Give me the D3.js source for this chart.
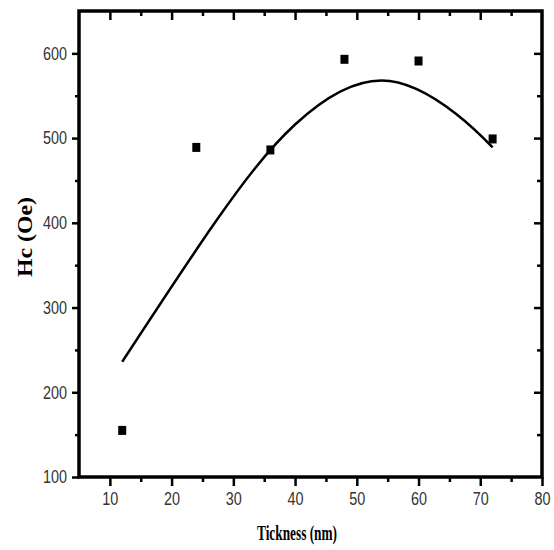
<!doctype html>
<html>
  <head>
    <script src="https://cdnjs.cloudflare.com/ajax/libs/d3/7.8.5/d3.min.js" type="text/JavaScript"></script>
    <style>
      body { margin: 0; background: #fff; }
    </style>
  </head>
  <body>
    <div id="viz">
      <svg style="width:554px;height:550px;"></svg>
    </div>
    <script>
      // measured points
      var thickness = [12, 24, 36, 48, 60, 72];
      var hc = [155, 489, 486, 593, 591, 499];
      // fitted curve
      var fitX = [12, 27, 40, 54, 66, 72];
      var fitY = [236, 400, 516, 568, 529, 489];
      var xTicks = [10, 20, 30, 40, 50, 60, 70, 80];
      var xMinor = [15, 25, 35, 45, 55, 65, 75];
      var yTicks = [100, 200, 300, 400, 500, 600];
      var yMinor = [150, 250, 350, 450, 550];

      var plotL = 79, plotR = 542, plotT = 11, plotB = 477;

      var x = d3.scaleLinear().domain([5, 80]).range([plotL, plotR]);
      var y = d3.scaleLinear().domain([100, 650]).range([plotB, plotT]);

      var svg = d3.select("svg");

      function styleAxis(g, w) {
        g.select(".domain").remove();
        g.selectAll(".tick line").attr("stroke", "#000").attr("stroke-width", w);
        g.selectAll("text")
          .attr("fill", "#333")
          .style("font-family", "'Liberation Sans', Arial, sans-serif")
          .style("font-size", "18px")
          .attr("textLength", function(d) { return String(d).length * 8; })
          .attr("lengthAdjust", "spacingAndGlyphs");
      }

      // bottom
      svg.append("g").attr("transform", "translate(0," + plotB + ")")
        .call(d3.axisBottom(x).tickValues(xMinor).tickSize(5).tickFormat(""))
        .call(styleAxis, 2.5);
      svg.append("g").attr("transform", "translate(0," + plotB + ")")
        .call(d3.axisBottom(x).tickValues(xTicks).tickSize(9).tickPadding(6))
        .call(styleAxis, 2.5);
      // left
      svg.append("g").attr("transform", "translate(" + plotL + ",0)")
        .call(d3.axisLeft(y).tickValues(yMinor).tickSize(4).tickFormat(""))
        .call(styleAxis, 2.5);
      svg.append("g").attr("transform", "translate(" + plotL + ",0)")
        .call(d3.axisLeft(y).tickValues(yTicks).tickSize(7).tickPadding(5))
        .call(styleAxis, 2.5);
      // top (inward)
      svg.append("g").attr("transform", "translate(0," + plotT + ")")
        .call(d3.axisBottom(x).tickValues(xMinor).tickSize(5).tickFormat(""))
        .call(styleAxis, 2.5);
      svg.append("g").attr("transform", "translate(0," + plotT + ")")
        .call(d3.axisBottom(x).tickValues(xTicks.slice(0, -1)).tickSize(9).tickFormat(""))
        .call(styleAxis, 2.5);
      // right (inward)
      svg.append("g").attr("transform", "translate(" + plotR + ",0)")
        .call(d3.axisLeft(y).tickValues(yMinor).tickSize(5).tickFormat(""))
        .call(styleAxis, 2.5);
      svg.append("g").attr("transform", "translate(" + plotR + ",0)")
        .call(d3.axisLeft(y).tickValues(yTicks.slice(1)).tickSize(8).tickFormat(""))
        .call(styleAxis, 2.5);

      // frame
      svg.append("rect")
        .attr("x", plotL).attr("y", plotT)
        .attr("width", plotR - plotL).attr("height", plotB - plotT)
        .attr("fill", "none").attr("stroke", "#000").attr("stroke-width", 3.5);

      // fit line
      var line = d3.line()
        .x(function(d, i) { return x(fitX[i]); })
        .y(function(d) { return y(d); })
        .curve(d3.curveNatural);
      svg.append("path")
        .attr("d", line(fitY))
        .attr("fill", "none").attr("stroke", "#000").attr("stroke-width", 2.5);

      // markers
      svg.selectAll("rect.pt")
        .data(hc)
        .enter()
        .append("rect")
          .attr("class", "pt")
          .attr("x", function(d, i) { return x(thickness[i]) - 4; })
          .attr("y", function(d) { return y(d) - 4.5; })
          .attr("width", 8).attr("height", 9)
          .attr("fill", "#000");

      // axis titles
      svg.append("text")
        .attr("x", 297).attr("y", 540)
        .attr("text-anchor", "middle")
        .attr("textLength", 80).attr("lengthAdjust", "spacingAndGlyphs")
        .style("font-family", "'Liberation Serif', 'Times New Roman', serif")
        .style("font-size", "20px").style("font-weight", "bold")
        .text("Tickness (nm)");
      svg.append("text")
        .attr("transform", "translate(32,237) rotate(-90)")
        .attr("text-anchor", "middle")
        .attr("textLength", 80).attr("lengthAdjust", "spacingAndGlyphs")
        .style("font-family", "'Liberation Serif', 'Times New Roman', serif")
        .style("font-size", "20px").style("font-weight", "bold")
        .text("Hc (Oe)");
    </script>
  </body>
</html>
